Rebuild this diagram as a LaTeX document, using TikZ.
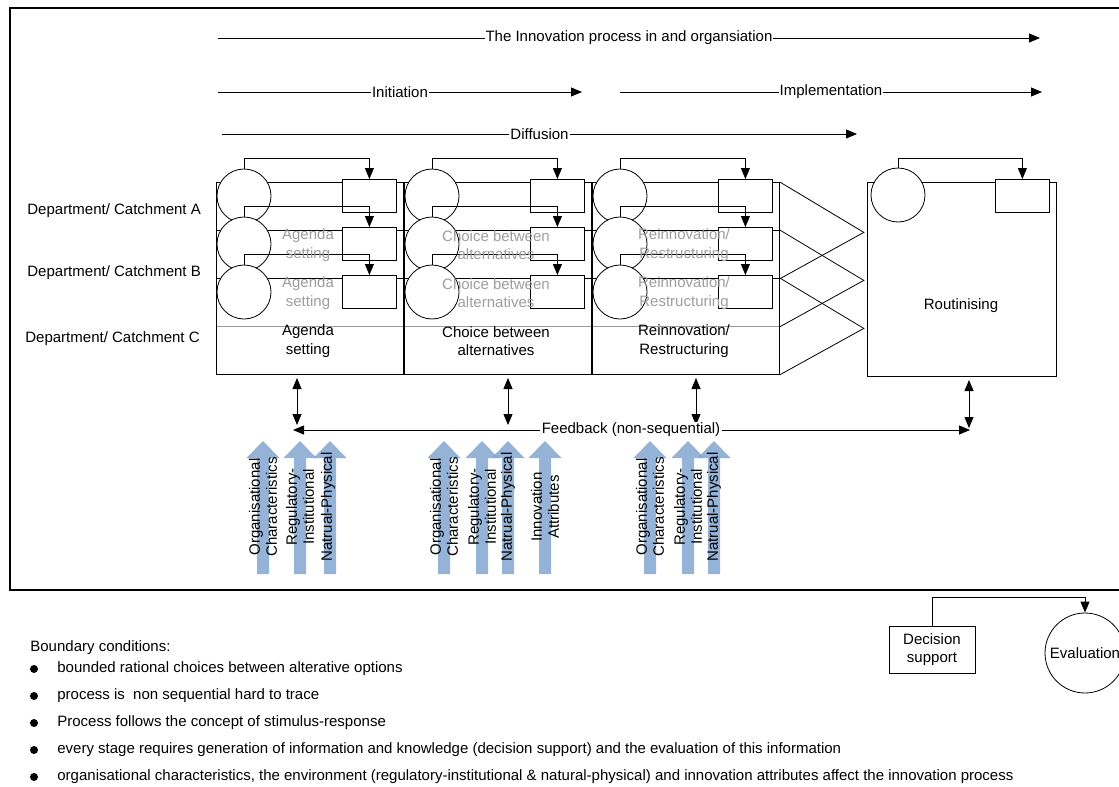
\documentclass[tikz,border=0pt]{standalone}
\usepackage{fontspec}
\setmainfont{Liberation Sans}
\usetikzlibrary{arrows.meta,calc}

\definecolor{flow}{HTML}{82A6D0}
\colorlet{ghost}{black!38}

\begin{document}
\begin{tikzpicture}[x=1pt,y=-1pt,
  font=\fontsize{15}{18.5}\selectfont,
  line width=0.8pt,
  tip/.style={-{Triangle[length=11pt,width=9pt]}},
  both/.style={{Triangle[length=11pt,width=9pt]}-{Triangle[length=11pt,width=9pt]}},
  lbl/.style={fill=white, inner sep=1pt},
  txt/.style={anchor=west, inner sep=0pt},
  card/.style={draw, fill=white, fill opacity=.6, text opacity=1,
    minimum width=187pt, minimum height=96pt, anchor=north west, inner sep=0pt},
  ring/.style={circle, draw, fill=white, minimum size=54pt, inner sep=0pt},
  slot/.style={draw, fill=white, minimum width=54pt, minimum height=33pt,
    anchor=north west, inner sep=0pt},
  stagetext/.style={align=center, inner sep=0pt},
  flowarrow/.style={fill=flow, fill opacity=.85},
  rot/.style={rotate=90, align=center, inner sep=0pt, font=\fontsize{15}{17}\selectfont},
  bullet/.style={circle, fill=black, inner sep=0pt, minimum size=8pt}]

\useasboundingbox (0,0) rectangle (1119,787);

% outer frame
\draw[line width=2pt] (10,8) rectangle (1140,590);

% phase arrows along the top
\coordinate (p1s) at (218,38);  \coordinate (p1e) at (1040,38);
\coordinate (p2s) at (218,92);  \coordinate (p2e) at (582,92);
\coordinate (p3s) at (620,92);  \coordinate (p3e) at (1042,92);
\coordinate (p4s) at (222,134); \coordinate (p4e) at (857,134);
\draw[tip] (p1s) -- (p1e) node[midway, lbl] (phase1) {The Innovation process in and organsiation};
\draw[tip] (p2s) -- (p2e) node[midway, lbl] (phase2) {Initiation};
\draw[tip] (p3s) -- (p3e) node[midway, lbl] (phase3) {Implementation};
\draw[tip] (p4s) -- (p4e) node[midway, lbl] (phase4) {Diffusion};

% department labels
\node[txt] (depA) at (27,211) {Department/ Catchment A};
\node[txt] (depB) at (27,273) {Department/ Catchment B};
\node[txt] (depC) at (25,339) {Department/ Catchment C};

% stacked stage cards, one layer per department
\foreach \col/\L in {1/216, 2/404, 3/592} {
  \foreach \k in {0,1,2} {
    \pgfmathsetmacro\T{182+48*\k}
    \node[card] (card-\col-\k) at (\L,\T) {};
    \node[ring] (ring-\col-\k) at ($(card-\col-\k.north west)+(28,14)$) {};
    \node[slot] (slot-\col-\k) at ($(card-\col-\k.north west)+(126,-3)$) {};
    \draw[tip] (ring-\col-\k.north) -- ++(0,-10) -| (slot-\col-\k.north);
  }
}

% stage names: the two back layers faded, the front layer in black
\foreach \col/\txt in {1/{Agenda\\setting},
                       2/{Choice between\\alternatives},
                       3/{Reinnovation/\\Restructuring}} {
  \foreach \k/\c in {0/ghost, 1/ghost, 2/black} {
    \node[stagetext, text=\c] (lab-\col-\k) at ($(card-\col-\k.north west)+(92,63)$) {\txt};
  }
}

% chevrons into routinising
\foreach \k in {0,1,2} {
  \coordinate (apex-\k) at ($(card-3-\k.east)+(84,2)$);
  \draw (card-3-\k.north east) -- (apex-\k) -- (card-3-\k.south east);
}

% routinising stage
\node[draw, fill=white, minimum width=189pt, minimum height=194pt,
      anchor=north west, inner sep=0pt] (rout) at (867,182) {};
\node (routlab) at (961,306) {Routinising};
\node[ring] (ring-r) at (898,195) {};
\node[slot] (slot-r) at (995,179) {};
\draw[tip] (ring-r.north) -- ++(0,-9) -| (slot-r.north);

% feedback
\coordinate (v1t) at (297,378); \coordinate (v1b) at (297,425);
\coordinate (v2t) at (508,378); \coordinate (v2b) at (508,425);
\coordinate (v3t) at (696,378); \coordinate (v3b) at (696,425);
\coordinate (v4t) at (969,380); \coordinate (v4b) at (969,428);
\foreach \i in {1,2,3,4} { \draw[both] (v\i t) -- (v\i b); }
\coordinate (fbL) at (293,430); \coordinate (fbR) at (970,430);
\node[lbl] (fbtxt) at (631,430) {Feedback (non-sequential)};
\draw[tip] (fbtxt.west) -- (fbL);
\draw[tip] (fbtxt.east) -- (fbR);

% influence arrows
\foreach \ax in {263,300,330,444,482,508,545,650,688,714} {
  \begin{scope}[xshift=\ax]
    \fill[flowarrow] (-6,574) -- (-6,458) -- (-16.5,458) -- (0,441)
                     -- (16.5,458) -- (6,458) -- (6,574) -- cycle;
  \end{scope}
}
\node[rot] (org1) at (263,507) {Organisational\\Characteristics};
\node[rot] (reg1) at (300,507) {Regulatory-\\Institutional};
\node[rot] (nat1) at (328,507) {Natrual-Physical};
\node[rot] (org2) at (444,507) {Organisational\\Characteristics};
\node[rot] (reg2) at (482,507) {Regulatory-\\Institutional};
\node[rot] (nat2) at (508,507) {Natrual-Physical};
\node[rot] (inn2) at (545,507) {Innovation\\Attributes};
\node[rot] (org3) at (650,507) {Organisational\\Characteristics};
\node[rot] (reg3) at (688,507) {Regulatory-\\Institutional};
\node[rot] (nat3) at (714,507) {Natrual-Physical};

% decision support and evaluation
\node[draw, minimum width=86pt, minimum height=47pt, align=center, inner sep=0pt]
  (ds) at (932,649.5) {Decision\\support};
\node[draw, circle, minimum size=80pt, inner sep=0pt] (ev) at (1085,653) {Evaluation};
\coordinate (evtop) at (1085,597);
\draw[tip] (ds.north) |- (evtop) -- (ev.north);

% boundary conditions
\node[txt] (bc) at (30,648) {Boundary conditions:};
\foreach \i/\t in {1/{bounded rational choices between alterative options},
                   2/{process is\ \ non sequential hard to trace},
                   3/{Process follows the concept of stimulus-response},
                   4/{every stage requires generation of information and knowledge (decision support) and the evaluation of this information},
                   5/{organisational characteristics, the environment (regulatory-institutional \& natural-physical) and innovation attributes affect the innovation process}} {
  \node[bullet] (dot\i) at (34,642+27*\i) {};
  \node[txt] (cond\i) at (57,642+27*\i) {\t};
}
\end{tikzpicture}
\end{document}
